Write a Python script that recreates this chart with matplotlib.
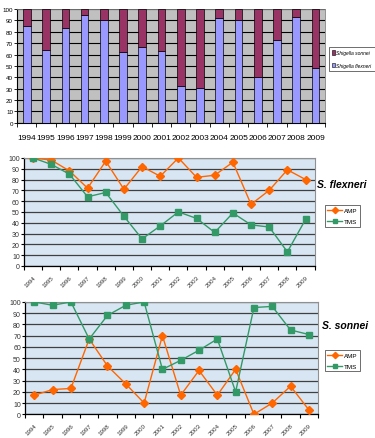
import numpy as np
import matplotlib
matplotlib.use('Agg')
import matplotlib.pyplot as plt
from matplotlib.patches import Patch

plt.rcParams['font.family'] = ['Liberation Sans Narrow', 'Liberation Sans', 'DejaVu Sans']

# ── DATA ─────────────────────────────────────────────────────
years = ['1994', '1995', '1996', '1997', '1998', '1999', '2000', '2001',
         '2002', '2003', '2004', '2005', '2006', '2007', '2008', '2009']

# share of isolates (%)
flexneri_pct = [85, 64, 83, 95, 90, 62, 67, 63, 32, 31, 92, 90, 40, 73, 93, 48]
sonnei_pct = [100 - v for v in flexneri_pct]

# resistance (%) - S. flexneri
flex_amp = [100, 98, 88, 72, 97, 71, 92, 83, 100, 82, 84, 96, 57, 70, 89, 80]
flex_tms = [100, 94, 85, 64, 68, 46, 25, 37, 50, 44, 31, 49, 38, 36, 13, 43]

# resistance (%) - S. sonnei
son_amp = [17, 22, 23, 67, 43, 27, 10, 70, 17, 39, 17, 40, 0, 10, 25, 4]
son_tms = [100, 97, 100, 67, 88, 97, 100, 40, 48, 57, 67, 20, 95, 96, 75, 71]

# ── COLORS ───────────────────────────────────────────────────
FLEX = '#9999FF'
SONN = '#993366'
GRAY_BG = '#C0C0C0'
BLUE_BG = '#D8E6F4'
ORANGE = '#FF6600'
GREEN = '#339966'

fig = plt.figure(figsize=(3.75, 4.39), dpi=100)
fig.patch.set_facecolor('white')
x = np.arange(len(years))

# ── 1. STACKED BARS ──────────────────────────────────────────
ax0 = fig.add_axes([0.046, 0.718, 0.821, 0.259])
ax0.set_facecolor(GRAY_BG)
ax0.bar(x, flexneri_pct, width=0.4, color=FLEX, edgecolor='black',
        linewidth=0.5, zorder=3, label='Shigella flexneri')
ax0.bar(x, sonnei_pct, width=0.4, bottom=flexneri_pct, color=SONN,
        edgecolor='black', linewidth=0.5, zorder=3, label='Shigella sonnei')
ax0.set_xlim(-0.5, len(years) - 0.5)
ax0.set_ylim(0, 100)
ax0.set_yticks(range(0, 101, 10))
ax0.yaxis.grid(True, color='black', linewidth=0.8, zorder=1)
ax0.set_xticks(np.arange(-0.5, len(years), 1.0))
ax0.set_xticklabels([])
ax0.set_xticks(x, minor=True)
ax0.set_xticklabels(years, minor=True, fontsize=6)
ax0.tick_params(axis='x', which='major', length=3, width=0.6)
ax0.tick_params(axis='x', which='minor', length=0, pad=8)
ax0.tick_params(axis='y', labelsize=4.5, length=2, width=0.6, pad=1)
for s in ['top', 'right']:
    ax0.spines[s].set_color('#808080')
    ax0.spines[s].set_linewidth(0.6)
for s in ['left', 'bottom']:
    ax0.spines[s].set_linewidth(0.8)

handles = [Patch(facecolor=SONN, edgecolor='black', linewidth=0.4),
           Patch(facecolor=FLEX, edgecolor='black', linewidth=0.4)]
leg0 = fig.legend(handles, ['Shigella sonnei', 'Shigella flexneri'],
                  loc='upper left', bbox_to_anchor=(0.876, 0.89),
                  prop={'style': 'italic', 'size': 3.6},
                  frameon=True, fancybox=False, edgecolor='black',
                  handlelength=0.7, handleheight=0.9, handletextpad=0.3,
                  borderpad=0.6, borderaxespad=0, labelspacing=1.5)
leg0.get_frame().set_linewidth(0.5)


# ── 2. LINE CHARTS ───────────────────────────────────────────
def line_panel(rect, amp, tms, title, leg_anchor, title_xy):
    ax = fig.add_axes(rect)
    ax.set_facecolor(BLUE_BG)
    ax.plot(x, amp, color=ORANGE, linewidth=1.0, marker='D',
            markersize=4, zorder=4, label='AMP')
    ax.plot(x, tms, color=GREEN, linewidth=1.0, marker='s',
            markersize=4, zorder=4, label='TMS')
    ax.set_xlim(-0.5, len(years) - 0.5)
    ax.set_ylim(0, 100)
    ax.set_yticks(range(0, 101, 10))
    ax.yaxis.grid(True, color='#404040', linewidth=0.9, zorder=1)
    ax.set_xticks(np.arange(-0.5, len(years), 1.0))
    ax.set_xticklabels([])
    ax.set_xticks(x, minor=True)
    ax.set_xticklabels(years, minor=True, fontsize=4.5, rotation=45,
                       ha='right', rotation_mode='anchor', color='#333333')
    ax.tick_params(axis='x', which='major', length=3, width=0.8)
    ax.tick_params(axis='x', which='minor', length=0, pad=6)
    ax.tick_params(axis='y', labelsize=5, length=2, width=0.8, pad=1,
                   labelcolor='#333333')
    for s in ['top', 'right']:
        ax.spines[s].set_color('#909090')
        ax.spines[s].set_linewidth(0.8)
    for s in ['left', 'bottom']:
        ax.spines[s].set_linewidth(0.9)

    fig.text(title_xy[0], title_xy[1], title, fontsize=7.5, fontweight='bold',
             style='italic', family=['Liberation Sans', 'DejaVu Sans'],
             ha='left', va='center')
    leg = fig.legend(handles=ax.get_lines(), loc='upper left',
                     bbox_to_anchor=leg_anchor, fontsize=4.5, frameon=True,
                     fancybox=False, edgecolor='black', handlelength=2.4,
                     handletextpad=0.2, borderpad=0.4, labelspacing=0.9,
                     markerscale=0.8)
    leg.get_frame().set_linewidth(0.5)
    return ax


line_panel([0.064, 0.392, 0.775, 0.246], flex_amp, flex_tms,
           'S. flexneri', (0.858, 0.537), (0.845, 0.579))
line_panel([0.067, 0.054, 0.781, 0.256], son_amp, son_tms,
           'S. sonnei', (0.858, 0.208), (0.859, 0.257))

plt.savefig('out.png', dpi=100, facecolor='white')
